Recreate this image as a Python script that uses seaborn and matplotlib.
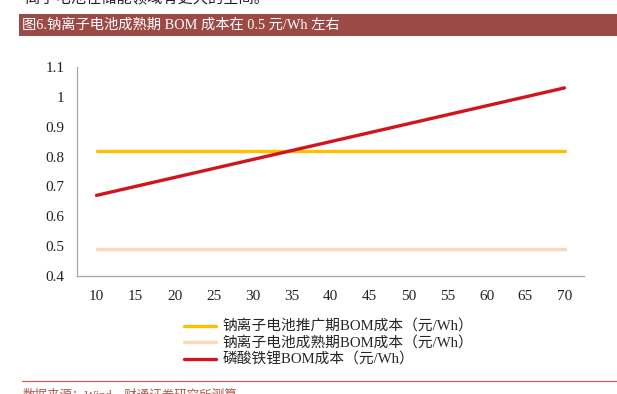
import matplotlib
matplotlib.use("Agg")
import matplotlib.pyplot as plt
import seaborn as sns
import pandas as pd
from matplotlib.patches import Rectangle
from matplotlib.lines import Line2D

# ---- data ----
x_vals = [10, 15, 20, 25, 30, 35, 40, 45, 50, 55, 60, 65, 70]
na_promo = [0.82] * 13
na_mature = [0.49] * 13
lfp = [0.67, 0.70, 0.73, 0.76, 0.79, 0.82, 0.85, 0.88, 0.91, 0.94, 0.97, 1.00, 1.03]
series_names = ["钠离子电池推广期BOM成本（元/Wh）",
                "钠离子电池成熟期BOM成本（元/Wh）",
                "磷酸铁锂BOM成本（元/Wh）"]
colors = ["#FFC000", "#FBD7B5", "#D2141E"]
y_ticks = [0.4, 0.5, 0.6, 0.7, 0.8, 0.9, 1.0, 1.1]
y_labels = ["0.4", "0.5", "0.6", "0.7", "0.8", "0.9", "1", "1.1"]
title = "图6.钠离子电池成熟期 BOM 成本在 0.5 元/Wh 左右"
source = "数据来源：Wind，财通证券研究所测算"
top_text = "离子电池在储能领域有更大的空间。"

sns.set_theme(style="white")
FAM = ["Liberation Serif", "Noto Sans CJK SC"]
plt.rcParams["font.family"] = FAM

df = pd.DataFrame({
    "x": x_vals * 3,
    "y": na_promo + na_mature + lfp,
    "s": [series_names[0]] * 13 + [series_names[1]] * 13 + [series_names[2]] * 13,
})

W, H = 617, 394
fig = plt.figure(figsize=(6.17, 3.94), dpi=100)
L, R, T, B = 77, 584, 67, 276
ax = fig.add_axes([L / W, 1 - B / H, (R - L) / W, (B - T) / H])

sns.lineplot(data=df, x="x", y="y", hue="s", palette=colors, hue_order=series_names,
             linewidth=2.4, ax=ax, legend=False)

ax.set_xlim(7.5, 72.5)
ax.set_ylim(0.4, 1.1)
ax.set_xlabel("")
ax.set_ylabel("")
ax.set_xticks(x_vals)
ax.set_xticklabels([str(v) for v in x_vals], fontsize=11, color="#222222")
ax.set_xticks([7.5 + 5 * k for k in range(14)], minor=True)
ax.tick_params(axis="x", which="major", length=0, pad=10)
ax.tick_params(axis="x", which="minor", length=4, width=0.8, color="#A6A6A6", direction="in")
ax.set_yticks(y_ticks)
ax.set_yticklabels(y_labels, fontsize=11, color="#222222")
ax.tick_params(axis="y", which="major", length=4, width=0.8, color="#A6A6A6", direction="in", pad=9)
for s in ["top", "right"]:
    ax.spines[s].set_visible(False)
for s in ["left", "bottom"]:
    ax.spines[s].set_color("#A6A6A6")
    ax.spines[s].set_linewidth(0.9)
ax.grid(False)

handles = [Line2D([0], [0], color=c, lw=2.4) for c in colors]
fig.legend(handles, series_names, loc="upper left", bbox_to_anchor=(184 / W, 1 - 320 / H),
           frameon=False, handlelength=2.2, handletextpad=0.4,
           labelspacing=0.17, borderpad=0, borderaxespad=0,
           prop={"family": FAM, "size": 10.6})

# title bar
fig.patches.append(Rectangle((19 / W, 1 - 36 / H), 1 - 19 / W, 22 / H,
                             transform=fig.transFigure, facecolor="#9C4A46", edgecolor="none"))
fig.text(22 / W, 1 - 25 / H, title, color="white", fontsize=10.3, va="center", ha="left",
         family=FAM)
# cut-off text at top
fig.text(25 / W, 1 + 2 / H, top_text, color="#222222", fontsize=11, va="center", ha="left",
         family=FAM)
# separator line and source
fig.add_artist(Line2D([22 / W, 1], [1 - 381 / H, 1 - 381 / H], transform=fig.transFigure,
                      color="#C9605A", lw=0.9))
fig.text(23 / W, 1 - 395 / H, source, color="#B5524D", fontsize=9, va="center", ha="left",
         family=FAM)

fig.savefig("out.png", dpi=100)
